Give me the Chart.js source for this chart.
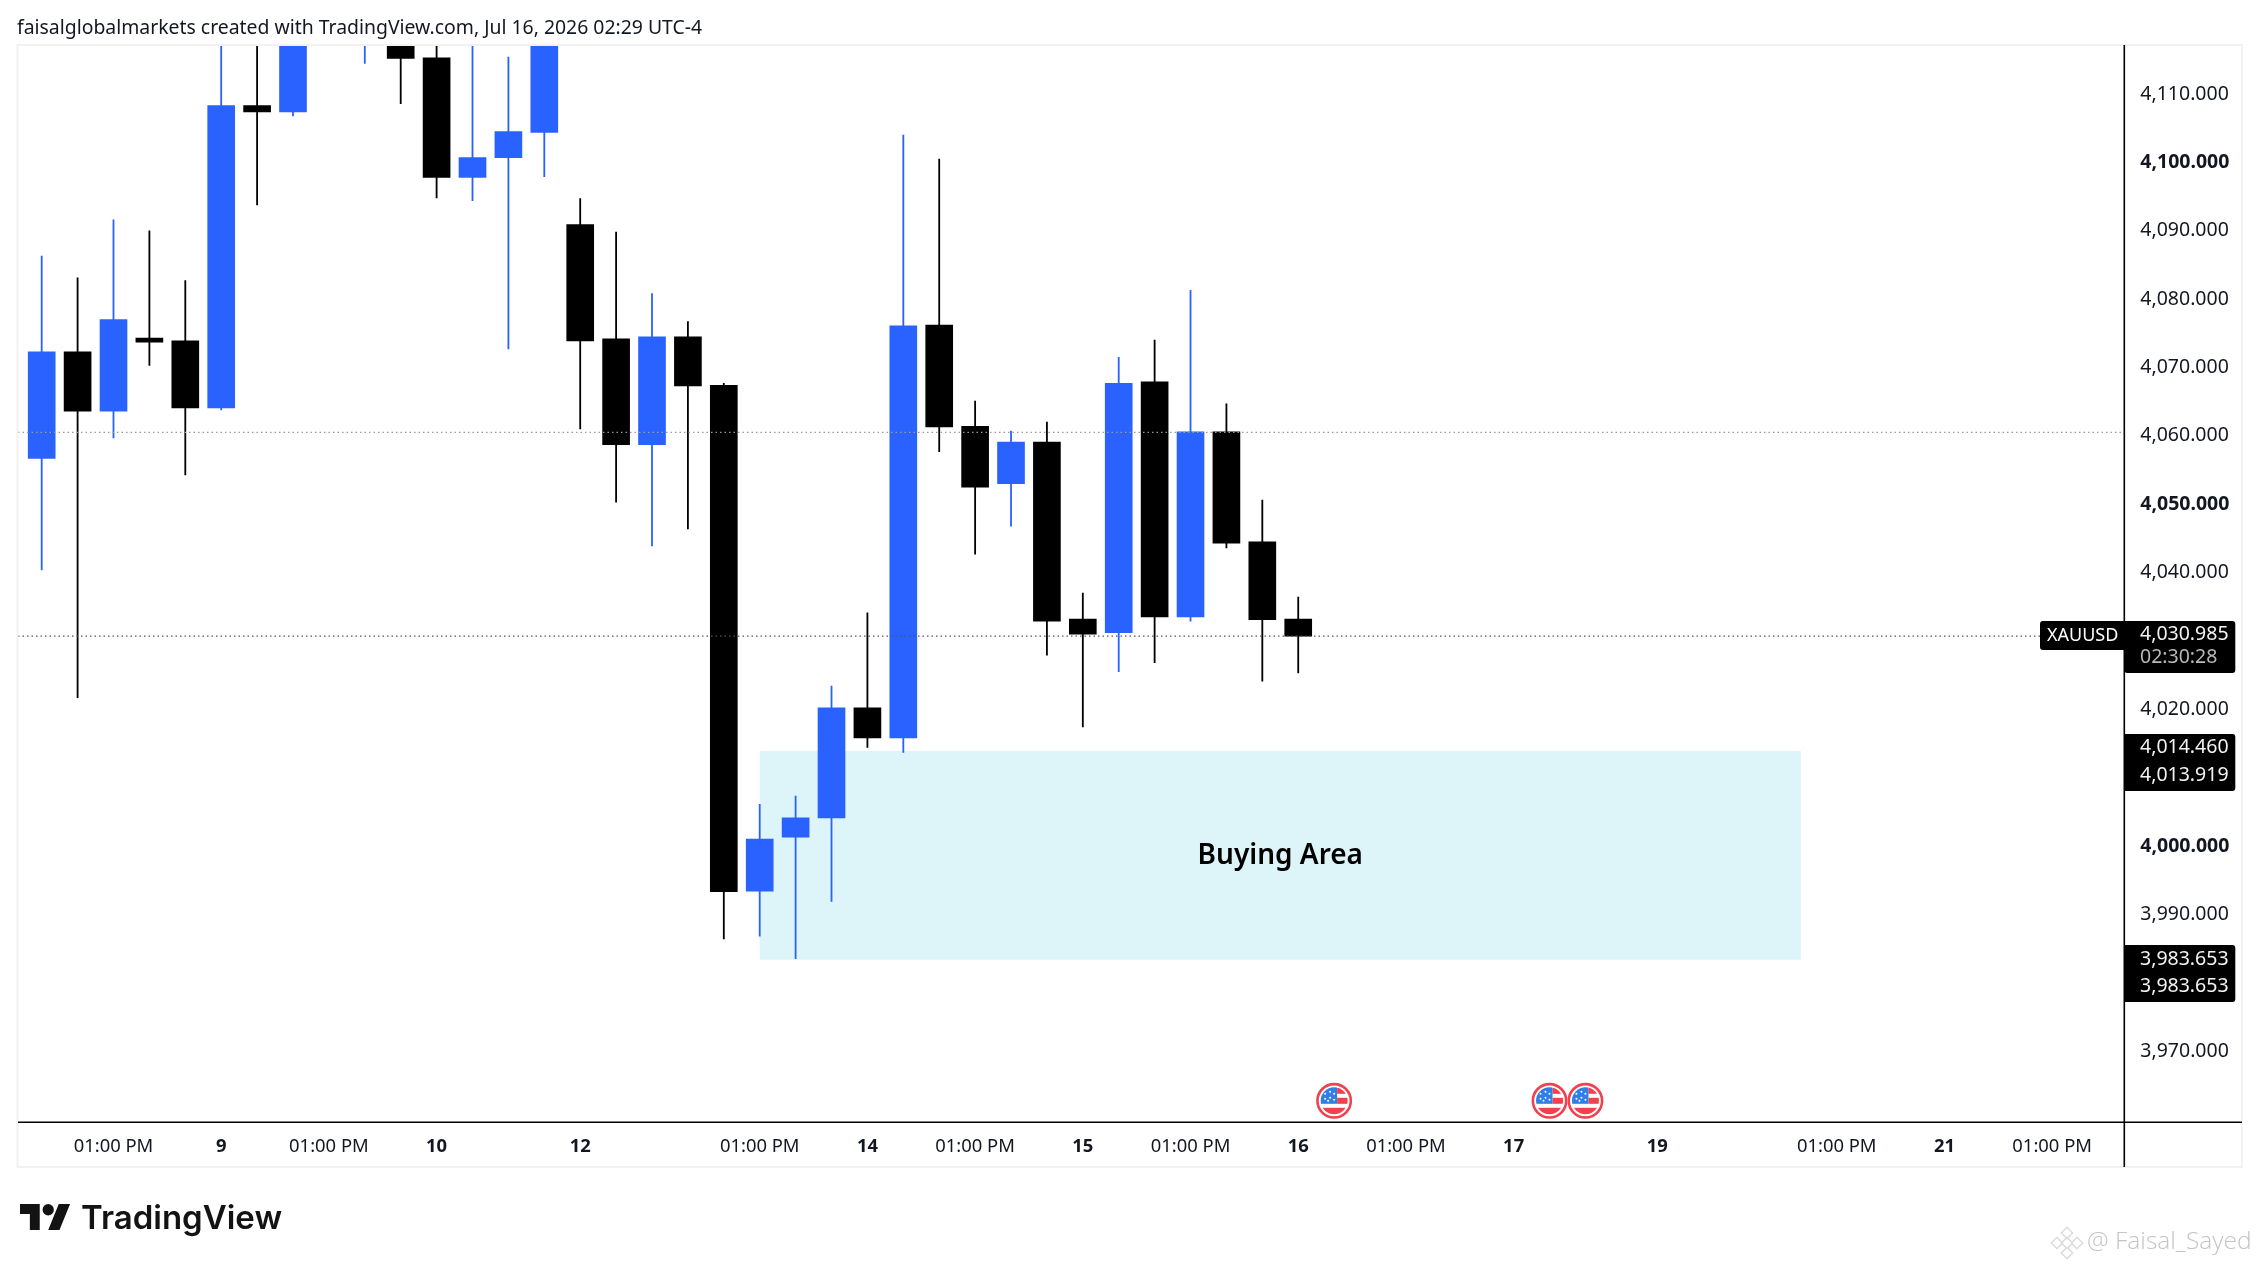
<!DOCTYPE html>
<html>
<head>
<meta charset="utf-8">
<style>html,body{margin:0;padding:0;background:#fff}canvas{display:block}</style>
<script src="https://cdn.jsdelivr.net/npm/chart.js@4/dist/chart.umd.min.js"></script>
</head>
<body>
<canvas id="c" width="2259" height="1267" style="width:2259px;height:1267px"></canvas>
<script>
// Candles (index 0..35). Values above the visible range are estimates.
const opens  = [4057.0,4072.6,4063.9,4074.6,4074.2,4064.4,4108.6,4107.7,4128.0,4123.0,4125.0,4115.6,4098.1,4101.0,4104.7,4091.2,4074.5,4059.0,4074.8,4067.7,3993.7,4001.6,4004.4,4020.5,4016.1,4076.5,4061.7,4053.3,4059.4,4033.5,4031.5,4068.2,4033.8,4060.9,4044.8,4033.5];
const highs  = [4086.6,4083.4,4091.9,4090.3,4083.0,4128.0,4125.0,4135.0,4145.0,4142.0,4130.0,4122.0,4124.0,4115.7,4128.0,4095.0,4090.1,4081.1,4077.0,4068.0,4006.4,4007.6,4023.7,4034.4,4104.3,4100.8,4065.4,4061.0,4062.3,4037.3,4071.8,4074.3,4081.6,4065.0,4050.9,4036.7];
const lows   = [4040.7,4022.0,4060.0,4070.6,4054.6,4064.1,4094.1,4107.1,4122.0,4114.8,4108.9,4095.1,4094.7,4073.0,4098.2,4061.3,4050.6,4044.2,4046.7,3986.7,3987.1,3983.8,3992.2,4014.7,4014.0,4058.0,4043.0,4047.1,4028.2,4017.7,4025.8,4027.1,4033.2,4043.9,4024.4,4025.6];
const closes = [4072.6,4063.9,4077.3,4074.0,4064.4,4108.6,4107.7,4128.0,4140.0,4135.0,4115.5,4098.1,4101.0,4104.8,4122.0,4074.2,4059.0,4074.8,4067.6,3993.6,4001.3,4004.4,4020.5,4016.1,4076.4,4061.6,4052.8,4059.4,4033.2,4031.3,4068.0,4033.8,4060.9,4044.6,4033.4,4030.985];

const priceTicks = [3970,3990,4000,4020,4040,4050,4060,4070,4080,4090,4100,4110];
const boldPrices = [4000,4050,4100];
const timeTickIndex = [2,5,8,11,15,20,23,26,29,32,35,38,41,45,50,53,56];
const timeTickLabels = ['01:00 PM','9','01:00 PM','10','12','01:00 PM','14','01:00 PM','15','01:00 PM','16','01:00 PM','17','19','01:00 PM','21','01:00 PM'];
const eventIndex = [36,42,43];
const zoneIndex = [20,49];
const zonePrices = [3983.653,4014.19];
const zoneLabel = 'Buying Area';
const lastPrice = 4030.985;
const prevLine = 4060.8;
const symbolLabel = 'XAUUSD';
const lastLabel = ['4,030.985','02:30:28'];
const zoneTopLabels = ['4,014.460','4,013.919'];
const zoneBottomLabels = ['3,983.653','3,983.653'];
const titleText = 'faisalglobalmarkets created with TradingView.com, Jul 16, 2026 02:29 UTC-4';
const brandText = 'TradingView';
const watermarkText = '@ Faisal_Sayed';

const UP = '#2962ff', DOWN = '#000000';
const FONT = '"Noto Sans", sans-serif';
const candleColor = closes.map((c,i)=> c>=opens[i] ? UP : DOWN);
const wickData = highs.map((h,i)=>({x:i,y:[lows[i],h]}));
const bodyData = opens.map((o,i)=>({x:i,y:[Math.min(o,closes[i]),Math.max(o,closes[i])]}));
const X_MIN = -0.66, X_MAX = 58.01, Y_MIN = 3959.87, Y_MAX = 4117.48;

function txt(ctx,s,x,y,font,color,align){
  ctx.font=font;ctx.fillStyle=color;ctx.textAlign=align||'left';ctx.textBaseline='middle';ctx.fillText(s,x,y);
}
function drawFlag(ctx,cx,cy){
  ctx.save();
  ctx.beginPath();ctx.arc(cx,cy,18,0,Math.PI*2);ctx.fillStyle='#fff';ctx.fill();
  ctx.beginPath();ctx.arc(cx,cy,16.7,0,Math.PI*2);ctx.lineWidth=2.6;ctx.strokeStyle='#f0414f';ctx.stroke();
  ctx.beginPath();ctx.arc(cx,cy,13.5,0,Math.PI*2);ctx.clip();
  ctx.fillStyle='#fff';ctx.fillRect(cx-14,cy-14,28,28);
  ctx.fillStyle='#f0414f';
  ctx.fillRect(cx+3,cy-13,11,6);ctx.fillRect(cx+3,cy-3,11,6);ctx.fillRect(cx-14,cy+7,28,7);
  ctx.fillStyle='#2f7fe6';ctx.fillRect(cx-14,cy-14,17,17);
  ctx.fillStyle='#fff';
  for(const p of [[-9,-7],[-4,-9],[0,-7],[-9,-2],[-4,-3],[0,-1],[-6,0]]){ctx.beginPath();ctx.arc(cx+p[0],cy+p[1],1,0,7);ctx.fill();}
  ctx.restore();
}
function drawBadge(ctx,x,y,w,h,r){
  ctx.beginPath();ctx.roundRect(x,y,w,h,r);ctx.fillStyle='#000';ctx.fill();
}
const chrome = {
  id:'chrome',
  beforeDatasetsDraw(chart){
    const {ctx,scales:{x,y}}=chart;
    ctx.save();
    const l=x.getPixelForValue(zoneIndex[0]),r=x.getPixelForValue(zoneIndex[1]);
    const t=y.getPixelForValue(zonePrices[1]),b=y.getPixelForValue(zonePrices[0]);
    ctx.fillStyle='#ddf5f9';ctx.fillRect(l,t,r-l,b-t);
    ctx.restore();
  },
  afterDatasetsDraw(chart){
    const {ctx,scales:{x,y}}=chart;
    ctx.save();
    const l=x.getPixelForValue(zoneIndex[0]),r=x.getPixelForValue(zoneIndex[1]);
    const t=y.getPixelForValue(zonePrices[1]),b=y.getPixelForValue(zonePrices[0]);
    txt(ctx,zoneLabel,(l+r)/2,(t+b)/2+1,'600 28px '+FONT,'#000','center');
    for(const i of eventIndex) drawFlag(ctx,x.getPixelForValue(i),chart.chartArea.bottom-21.5);
    ctx.restore();
  },
  afterDraw(chart){
    const {ctx,chartArea:a}=chart;
    ctx.save();
    // frame
    ctx.strokeStyle='#f2f2f3';ctx.lineWidth=2;ctx.strokeRect(17.5,45,2224.5,1122);
    // axis lines
    ctx.strokeStyle='#000';ctx.lineWidth=1.6;
    ctx.beginPath();ctx.moveTo(18,a.bottom);ctx.lineTo(2242,a.bottom);ctx.stroke();
    ctx.beginPath();ctx.moveTo(a.right,45);ctx.lineTo(a.right,1167);ctx.stroke();
    // price badges
    drawBadge(ctx,2040,621,86,29,[3,0,0,3]);
    drawBadge(ctx,a.right,621,111,52,[0,3,3,3]);
    drawBadge(ctx,a.right,734,111,57,[0,3,3,0]);
    drawBadge(ctx,a.right,945,111,57,[0,3,3,0]);
    const f='400 19.5px '+FONT;
    txt(ctx,symbolLabel,2047,635.5,'400 18px '+FONT,'#fff');
    txt(ctx,lastLabel[0],2140,634,f,'#f2f2f2');
    txt(ctx,lastLabel[1],2140,657,f,'#b8b8b8');
    txt(ctx,zoneTopLabels[0],2140,747,f,'#f2f2f2');
    txt(ctx,zoneTopLabels[1],2140,775,f,'#f2f2f2');
    txt(ctx,zoneBottomLabels[0],2140,959,f,'#f2f2f2');
    txt(ctx,zoneBottomLabels[1],2140,986.5,f,'#f2f2f2');
    // header
    txt(ctx,titleText,17,28,'400 19.4px '+FONT,'#131722');
    // brand logo
    ctx.save();ctx.translate(20,1204-4*1.44);ctx.scale(1.41,1.44);
    ctx.fillStyle='#131313';
    ctx.fill(new Path2D('M14 22H7V11H0V4h14v18zM28 22h-8l7.5-18h8L28 22z'));
    ctx.beginPath();ctx.arc(20,8,4,0,7);ctx.fill();
    ctx.restore();
    txt(ctx,brandText,81,1219,'600 33px Inter, '+FONT,'#131313');
    // watermark
    ctx.strokeStyle='#dedede';ctx.lineWidth=1.6;
    for(const p of [[0,-10],[-10,0],[10,0],[0,10],[0,0]]){
      ctx.save();ctx.translate(2067+p[0],1243+p[1]);ctx.rotate(Math.PI/4);ctx.strokeRect(-4,-4,8,8);ctx.restore();
    }
    txt(ctx,watermarkText,2087,1242,'300 24.5px "Open Sans", sans-serif','#c4c4c4');
    ctx.restore();
  }
};
new Chart(document.getElementById('c'),{
  type:'bar',
  data:{datasets:[
    {type:'line',data:[{x:X_MIN,y:lastPrice},{x:X_MAX,y:lastPrice}],borderColor:'#555',borderWidth:1.3,borderDash:[1.5,3],pointRadius:0,order:0},
    {type:'line',data:[{x:X_MIN,y:prevLine},{x:X_MAX,y:prevLine}],borderColor:'#9a9a9a',borderWidth:1.3,borderDash:[1.5,3],pointRadius:0,order:0},
    {data:bodyData,backgroundColor:candleColor,barThickness:27,grouped:false,order:1},
    {data:wickData,backgroundColor:candleColor,barThickness:1.15,grouped:false,order:2}
  ]},
  options:{
    responsive:false,animation:false,devicePixelRatio:1,
    layout:{padding:{left:18,top:45,right:16,bottom:100}},
    plugins:{legend:{display:false},tooltip:{enabled:false},title:{display:false}},
    scales:{
      x:{type:'linear',offset:false,min:X_MIN,max:X_MAX,
        grid:{display:false,drawTicks:false,offset:false},border:{display:false},
        afterFit(s){s.height=44.7;s.paddingLeft=0;s.paddingRight=0;},
        afterBuildTicks(s){s.ticks=timeTickIndex.map(v=>({value:v}));},
        ticks:{autoSkip:false,maxRotation:0,minRotation:0,padding:13,color:'#131722',
          callback:v=>timeTickLabels[timeTickIndex.indexOf(v)],
          font:c=>{const l=c.tick?timeTickLabels[timeTickIndex.indexOf(c.tick.value)]:'01:00 PM';return {family:FONT,size:18.4,weight:l==='01:00 PM'?'400':'700'};}
        }},
      y:{type:'linear',position:'right',min:Y_MIN,max:Y_MAX,
        grid:{display:false,drawTicks:false},border:{display:false},
        afterFit(s){s.width=118.7;s.paddingTop=0;s.paddingBottom=0;},
        afterBuildTicks(s){s.ticks=priceTicks.map(v=>({value:v}));},
        ticks:{autoSkip:false,padding:16,labelOffset:-2,crossAlign:'near',color:'#131722',
          callback:v=>v.toLocaleString('en-US',{minimumFractionDigits:3,maximumFractionDigits:3}),
          font:c=>({family:FONT,size:19.5,weight:(c.tick&&boldPrices.includes(c.tick.value))?'700':'400'})
        }}
    }
  },
  plugins:[chrome]
});
</script>
</body>
</html>
